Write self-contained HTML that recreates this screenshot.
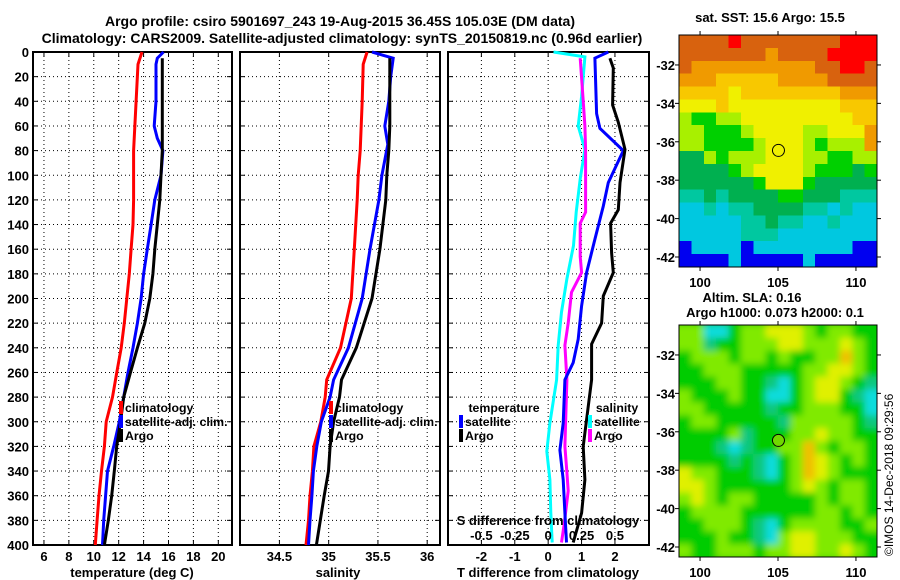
<!DOCTYPE html>
<html><head><meta charset="utf-8">
<style>
html,body{margin:0;padding:0;background:#fff;}
svg{display:block;font-family:"Liberation Sans",Arial,sans-serif;font-weight:bold;}
text{font-size:13px;fill:#000;}
text.leg{font-size:12.3px;}
</style></head>
<body>
<svg id="chart" width="900" height="580" viewBox="0 0 900 580" xmlns="http://www.w3.org/2000/svg">
<defs>
<clipPath id="clipSla"><rect x="679" y="325" width="198" height="232"/></clipPath>
<filter id="blurSla" x="-10%" y="-10%" width="120%" height="120%"><feGaussianBlur stdDeviation="3.5"/></filter>
</defs>
<text x="340" y="26" text-anchor="middle" style="font-size:14px">Argo profile: csiro 5901697_243 19-Aug-2015 36.45S 105.03E (DM data)</text>
<text x="342" y="43" text-anchor="middle" style="font-size:14px">Climatology: CARS2009. Satellite-adjusted climatology: synTS_20150819.nc (0.96d earlier)</text>
<g id="g"></g>
</svg>
<script>
// ---- depth axis ----
const depthTicks=[0,20,40,60,80,100,120,140,160,180,200,220,240,260,280,300,320,340,360,380,400];
// ---- temperature panel ----
const tempTicks=[6,8,10,12,14,16,18,20];
const tempClimDepth=[0,10,40,80,120,140,160,180,200,220,240,260,280,300,320,340,360,380,400];
const tempClim=[13.87,13.55,13.4,13.2,13.2,13.15,13.0,12.85,12.65,12.45,12.2,11.85,11.5,11.0,10.85,10.62,10.42,10.27,10.12];
const tempSatDepth=[0,5,10,40,60,70,80,100,120,140,160,180,200,220,240,260,280,300,320,340,360,380,400];
const tempSat=[15.6,15.1,15.0,15.0,14.85,15.1,15.55,15.4,14.9,14.6,14.3,14.0,13.8,13.5,13.15,12.75,12.4,12.05,11.6,11.1,10.95,10.8,10.7];
const tempArgoDepth=[5,80,100,120,140,160,180,200,220,240,260,280,300,320,340,360,380,400];
const tempArgo=[15.5,15.5,15.4,15.3,15.1,14.9,14.75,14.5,14.1,13.5,12.95,12.4,12.15,11.84,11.65,11.44,11.17,10.85];
// ---- salinity panel ----
const salTicks=[34.5,35,35.5,36];
const salClimDepth=[0,10,40,80,100,120,160,200,240,266,280,300,320,340,360,380,400];
const salClim=[35.39,35.35,35.34,35.32,35.30,35.29,35.26,35.23,35.12,34.98,34.965,34.92,34.85,34.835,34.81,34.795,34.77];
const salSatDepth=[0,5,20,40,60,75,100,120,160,200,240,266,280,300,320,340,360,380,400];
const salSat=[35.44,35.655,35.63,35.61,35.57,35.6,35.54,35.51,35.42,35.34,35.2,35.05,35.015,34.925,34.88,34.845,34.83,34.81,34.795];
const salArgoDepth=[5,40,60,80,100,120,160,200,240,266,280,300,320,340,360,380,400];
const salArgo=[35.62,35.62,35.62,35.61,35.59,35.58,35.52,35.44,35.28,35.13,35.11,35.05,35.015,34.998,34.955,34.915,34.875];
// ---- difference panel ----
const tdiffTicks=[-2,-1,0,1,2];
const sdiffTicks=[-0.5,-0.25,0,0.25,0.5];
const sdiffTickLabels=["-0.5","-0.25","0","0.25","0.5"];
const tSatDiffDepth=[0,5,50,62,80,106,125,152,179,206,233,252,266,301,323,347,374,398];
const tSatDiff=[1.8,1.4,1.45,1.55,2.25,1.8,1.65,1.4,1.15,1.0,0.9,0.75,0.5,0.45,0.35,0.45,0.5,0.55];
const tArgoDiffDepth=[5,13,43,57,79,106,128,139,163,179,198,220,237,266,320,347,374,398];
const tArgoDiff=[1.85,1.95,1.93,2.1,2.3,2.15,2.1,1.87,1.9,1.95,1.65,1.6,1.3,1.3,1.05,1.1,1.0,0.75];
const sSatDiffDepth=[0,4,36,60,79,103,130,157,184,211,238,266,301,324,347,374,398];
const sSatDiff=[0.04,0.275,0.25,0.225,0.275,0.24,0.21,0.19,0.14,0.1,0.075,0.063,0.013,-0.01,0.013,0.02,0.03];
const sArgoDiffDepth=[5,36,60,79,130,139,166,179,195,220,238,266,320,341,356,383,398];
const sArgoDiff=[0.24,0.26,0.275,0.28,0.28,0.24,0.24,0.25,0.175,0.15,0.125,0.14,0.125,0.14,0.15,0.12,0.1];
// ---- maps ----
const mapLonTicks=[100,105,110];
const mapLatTicks=[-32,-34,-36,-38,-40,-42];
const argoLon=105.03, argoLat=-36.45;
const sstRows=[
"DDDDRDDDDDDDDRRR","DDDDDDDODDDDRRRR","DOOOOOOOOOODDRRD","OOOAAAAAOOOODDDD",
"AAAAYAAAAAAAAOOO","YYYAYYYYYYYYYAAA","LGGLLYYYYYYYYYAA","LLGGGLYYYYLLYYYO",
"LLGGGGLYYYLGLLLO","EELGLLLYYYLLGGLL","EEEEGLYYYYLGGGEG","EEEEEEGYYYGEEEEE",
"TTETEEEEGGEEETTT","CCTCTTEEEETTCTCC","CCCCCTTETTCCTCCC","CCCCCTTTCCCCCCCC",
"BCCCCBCCCCCCCCBB","BBBBCBBBBBCBBBBB"];
const slaRows=[
"LLCCGLLYYYLGLLGG","LLTGGLLLYYLLLYLG","GLLLGLLGLGGLLOLG","GGLLLGGGGGLLYYLG",
"GGGLLGGTCGLYYLGT","LGGGLGGCCGLYYGTC","LLGGGGGTGGLLLGGC","GLLGGGGGTLLLLLGT",
"GGGGLTGGGLLYLLGG","GGGTCTGGLLOLGLLG","GGGGTGTCGLOYLGLG","YLLGGGTCGLOYLGGG",
"YYLGGGGGGLYLGLLG","LYLGLLGGGGGLGLLG","GLLLLGGGGGGLLGLG","GGLLLGTCGLLLLGGL",
"GGGLGGTCLYYLLLGG","LGGLLLGLLYYLLYLG"];

const NS="http://www.w3.org/2000/svg";
const G=document.getElementById('g');
function mk(tag,attrs,parent){const e=document.createElementNS(NS,tag);for(const k in attrs)e.setAttribute(k,attrs[k]);(parent||G).appendChild(e);return e;}
function txt(x,y,s,anchor,parent){const t=mk('text',{x:x,y:y,'text-anchor':anchor||'middle'},parent);t.textContent=s;return t;}

const yTop=52,yBot=545;
function yD(d){return yTop+(yBot-yTop)*d/400;}

function panel(name,x0,x1,vmin,vmax,ticks,labels){
  const sx=v=>x0+(x1-x0)*(v-vmin)/(vmax-vmin);
  const grp=mk('g',{});
  
  
  depthTicks.forEach(d=>{
    if(d>0&&d<400){const l=mk('line',{x1:x0,x2:x1,y1:yD(d),y2:yD(d),stroke:'#000','stroke-width':1,'stroke-dasharray':'1,3'},grp);
    
    }
    mk('line',{x1:x0,x2:x0+5,y1:yD(d),y2:yD(d),stroke:'#000'},grp);
    mk('line',{x1:x1-5,x2:x1,y1:yD(d),y2:yD(d),stroke:'#000'},grp);
  });
  ticks.forEach((v,i)=>{
    const l=mk('line',{x1:sx(v),x2:sx(v),y1:yTop,y2:yBot,stroke:'#000','stroke-dasharray':'1,3'},grp);
    
    
    mk('line',{x1:sx(v),x2:sx(v),y1:yBot-5,y2:yBot,stroke:'#000'},grp);
    mk('line',{x1:sx(v),x2:sx(v),y1:yTop,y2:yTop+5,stroke:'#000'},grp);
    const t=txt(sx(v),561,labels?labels[i]:String(v),'middle',grp);
    
    
  });
  const r=mk('rect',{x:x0,y:yTop,width:x1-x0,height:yBot-yTop,fill:'none',stroke:'#000','stroke-width':2},grp);
  
  
  return sx;
}
function series(name,sx,ds,vs,color){
  const pts=ds.map((d,i)=>sx(vs[i]).toFixed(1)+','+yD(d).toFixed(1)).join(' ');
  const p=mk('polyline',{points:pts,fill:'none',stroke:color,'stroke-width':3,'stroke-linejoin':'miter'});
  
  
}
function legendEntry(x,y,color,label){
  const r=mk('rect',{x:x-2,y:y-11,width:4,height:13,fill:color});
  
  
  const t=txt(x+4,y,label,'start');
  t.setAttribute('class','leg');
  
  
}

depthTicks.forEach(d=>{const t=txt(29,yD(d)+5,String(d),'end');

});

// Panel 1
const sxT=panel('temperature',33,232,5.12,21.1,tempTicks);
series('temperature-climatology-line',sxT,tempClimDepth,tempClim,'#ff0000');
series('temperature-satellite-line',sxT,tempSatDepth,tempSat,'#0000ff');
series('temperature-argo-line',sxT,tempArgoDepth,tempArgo,'#000000');
const t1=txt(132,577,'temperature (deg C)');


legendEntry(121,412,'#ff0000','climatology');
legendEntry(121,426,'#0000ff','satellite-adj. clim.');
legendEntry(121,440,'#000000','Argo');

// Panel 2
const sxS=panel('salinity',240,440,34.10,36.13,salTicks);
series('salinity-climatology-line',sxS,salClimDepth,salClim,'#ff0000');
series('salinity-satellite-line',sxS,salSatDepth,salSat,'#0000ff');
series('salinity-argo-line',sxS,salArgoDepth,salArgo,'#000000');
const t2=txt(338,577,'salinity');


legendEntry(331,412,'#ff0000','climatology');
legendEntry(331,426,'#0000ff','satellite-adj. clim.');
legendEntry(331,440,'#000000','Argo');

// Panel 3
const sxD=panel('difference',448,649,-3,3.02,tdiffTicks);
const sxSD=v=>sxD(v*4);
series('salinity-satellite-diff-line',sxSD,sSatDiffDepth,sSatDiff,'#00ffff');
series('salinity-argo-diff-line',sxSD,sArgoDiffDepth,sArgoDiff,'#ff00ff');
series('temperature-satellite-diff-line',sxD,tSatDiffDepth,tSatDiff,'#0000ff');
series('temperature-argo-diff-line',sxD,tArgoDiffDepth,tArgoDiff,'#000000');
const t3=txt(548,577,'T difference from climatology');


const t4=txt(548,525,'S difference from climatology');


sdiffTicks.forEach((v,i)=>{const t=txt(sxSD(v),540,sdiffTickLabels[i]);

});
const lt=txt(504,412,'temperature');
lt.setAttribute('class','leg');


legendEntry(461,426,'#0000ff','satellite');
legendEntry(461,440,'#000000','Argo');
const ls=txt(617,412,'salinity');
ls.setAttribute('class','leg');


legendEntry(590,426,'#00ffff','satellite');
legendEntry(590,440,'#ff00ff','Argo');

// Maps
const sstPal={R:'#ff0000',D:'#d8620e',O:'#f09a00',A:'#f8c800',Y:'#f0f000',L:'#a8f000',G:'#00d000',E:'#00b050',T:'#00c8a0',C:'#00c8e0',B:'#0000f0'};
const slaPal={G:'#00cc00',L:'#80ea00',Y:'#e0f000',O:'#f0c000',T:'#10c880',C:'#10dcdc'};
function map(name,y0,rows,pal,blur){
  const x0=679,x1=877,y1=y0+232;
  const lonMin=98.65,lonMax=111.35,latTop=-30.44,latBot=-42.52;
  const sx=lon=>x0+(x1-x0)*(lon-lonMin)/(lonMax-lonMin);
  const sy=lat=>y0+(y1-y0)*(lat-latTop)/(latBot-latTop);
  const outer=mk('g',blur?{'clip-path':'url(#clipSla)'}:{});
  
  
  const grp=mk('g',blur?{filter:'url(#blurSla)'}:{'shape-rendering':'crispEdges'},outer);
  const nr=rows.length,nc=rows[0].length;
  const cw=(x1-x0)/nc,ch=(y1-y0)/nr;
  if(blur)mk('rect',{x:x0-10,y:y0-10,width:x1-x0+20,height:y1-y0+20,fill:pal.G},grp);
  rows.forEach((row,r)=>{for(let c=0;c<nc;c++){
    const cell=mk('rect',{x:(x0+c*cw).toFixed(2),y:(y0+r*ch).toFixed(2),width:(cw+0.6).toFixed(2),height:(ch+0.6).toFixed(2),fill:pal[row[c]]},grp);
    
    
  }});
  if(blur){
    rows.forEach((row,r)=>{
      mk('rect',{x:x0-10,y:y0+r*ch,width:10,height:ch+0.6,fill:pal[row[0]]},grp);
      mk('rect',{x:x1,y:y0+r*ch,width:10,height:ch+0.6,fill:pal[row[nc-1]]},grp);});
  }
  mk('rect',{x:x0,y:y0,width:x1-x0,height:y1-y0,fill:'none',stroke:'#000','stroke-width':1});
  mapLonTicks.forEach(v=>{
    mk('line',{x1:sx(v),x2:sx(v),y1:y0-4,y2:y0,stroke:'#000'});
    mk('line',{x1:sx(v),x2:sx(v),y1:y1,y2:y1+4,stroke:'#000'});
    const t=txt(sx(v),y1+20,String(v));
    
    
  });
  mapLatTicks.forEach(v=>{
    mk('line',{x1:x0-4,x2:x0,y1:sy(v),y2:sy(v),stroke:'#000'});
    mk('line',{x1:x1,x2:x1+4,y1:sy(v),y2:sy(v),stroke:'#000'});
    const t=txt(675,sy(v)+5,String(v),'end');
    
    
  });
  const c=mk('circle',{cx:sx(argoLon),cy:sy(argoLat),r:6,fill:blur?'#70d800':'none',stroke:'#000','stroke-width':1});
  
  
}
map('sst-map',35,sstRows,sstPal,false);
map('sla-map',325,slaRows,slaPal,true);
const m1=txt(770,22,'sat. SST: 15.6 Argo: 15.5');


const m2=txt(752,302,'Altim. SLA: 0.16');


const m3=txt(775,317,'Argo h1000: 0.073 h2000: 0.1');


const cr=mk('text',{x:0,y:0,transform:'translate(893,556) rotate(-90)','text-anchor':'start',style:'font-weight:normal;font-size:12px'});
cr.textContent='\u00A9IMOS 14-Dec-2018 09:29:56';


</script>
</body></html>
